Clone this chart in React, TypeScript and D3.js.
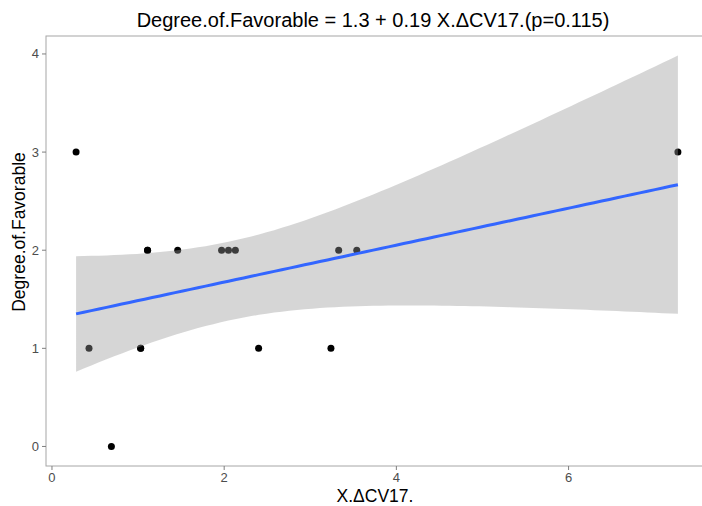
import React, { useEffect, useRef } from "react";
import * as d3 from "d3";

// observed points; (1.03, 1) and (1.11, 2) are overplotted twice, as the fit stats imply
const xValues = [0.28, 0.43, 0.69, 1.03, 1.03, 1.11, 1.11, 1.46, 1.97, 2.05, 2.13, 2.4, 3.24, 3.33, 3.54, 7.27];
const yValues = [3, 1, 0, 1, 1, 2, 2, 2, 2, 2, 2, 1, 1, 2, 2, 3];
const xTicks = [0, 2, 4, 6];
const yTicks = [0, 1, 2, 3, 4];
const title = "Degree.of.Favorable = 1.3 + 0.19 X.\u0394CV17.(p=0.115)";
const xLabel = "X.\u0394CV17.";
const yLabel = "Degree.of.Favorable";

const FONT = "'Liberation Sans', Arial, Helvetica, sans-serif";

// t quantile approximation (Cornish-Fisher)
const tQuantile = (df: number) => {
  const z = 1.959964;
  return z + (z ** 3 + z) / (4 * df) + (5 * z ** 5 + 16 * z ** 3 + 3 * z) / (96 * df * df);
};

const fitLine = () => {
  const n = xValues.length;
  const mx = d3.mean(xValues)!;
  const my = d3.mean(yValues)!;
  let sxx = 0, sxy = 0;
  xValues.forEach((x, i) => {
    sxx += (x - mx) ** 2;
    sxy += (x - mx) * (yValues[i] - my);
  });
  const slope = sxy / sxx;
  const intercept = my - slope * mx;
  let sse = 0;
  xValues.forEach((x, i) => {
    sse += (yValues[i] - intercept - slope * x) ** 2;
  });
  const s = Math.sqrt(sse / (n - 2));
  const t = tQuantile(n - 2);
  const [x0, x1] = d3.extent(xValues) as [number, number];
  return d3.range(80).map(k => {
    const x = x0 + ((x1 - x0) * k) / 79;
    const fit = intercept + slope * x;
    const se = s * Math.sqrt(1 / n + (x - mx) ** 2 / sxx);
    return { x, fit, lo: fit - t * se, hi: fit + t * se };
  });
};

const drawChart = (node: SVGSVGElement) => {
  const svg = d3.select(node);
  svg.selectAll("*").remove();

  const pred = fitLine();
  const [xMin, xMax] = d3.extent(xValues) as [number, number];
  const xr = xMax - xMin;
  const yMin = Math.min(d3.min(yValues)!, d3.min(pred, d => d.lo)!);
  const yMax = Math.max(d3.max(yValues)!, d3.max(pred, d => d.hi)!);
  const yr = yMax - yMin;

  const x = d3.scaleLinear().domain([xMin - 0.05 * xr, xMax + 0.05 * xr]).range([46, 708]);
  const y = d3.scaleLinear().domain([yMin - 0.05 * yr, yMax + 0.05 * yr]).range([466, 36]);

  // panel border
  svg.append("rect")
    .attr("x", 46).attr("y", 36).attr("width", 662).attr("height", 430)
    .attr("fill", "white").attr("stroke", "#a6a6a6").attr("stroke-width", 1);

  // points
  svg.append("g").selectAll("circle").data(xValues).enter().append("circle")
    .attr("cx", d => x(d))
    .attr("cy", (d, i) => y(yValues[i]))
    .attr("r", 3.5)
    .attr("fill", "black");

  // confidence ribbon on top of points
  svg.append("path")
    .datum(pred)
    .attr("fill", "#999999")
    .attr("fill-opacity", 0.4)
    .attr("d", d3.area<any>().x(d => x(d.x)).y0(d => y(d.lo)).y1(d => y(d.hi)));

  svg.append("path")
    .datum(pred)
    .attr("fill", "none")
    .attr("stroke", "#3366FF")
    .attr("stroke-width", 3)
    .attr("d", d3.line<any>().x(d => x(d.x)).y(d => y(d.fit)));

  // x axis
  const xg = svg.append("g");
  xTicks.forEach(t => {
    xg.append("line")
      .attr("x1", x(t)).attr("x2", x(t)).attr("y1", 466).attr("y2", 470)
      .attr("stroke", "#7f7f7f");
    xg.append("text")
      .attr("x", x(t)).attr("y", 482)
      .attr("text-anchor", "middle")
      .attr("font-family", FONT).attr("font-size", 13).attr("fill", "#4d4d4d")
      .text(t);
  });

  // y axis
  const yg = svg.append("g");
  yTicks.forEach(t => {
    yg.append("line")
      .attr("x1", 42).attr("x2", 46).attr("y1", y(t)).attr("y2", y(t))
      .attr("stroke", "#7f7f7f");
    yg.append("text")
      .attr("x", 39).attr("y", y(t) + 4.5)
      .attr("text-anchor", "end")
      .attr("font-family", FONT).attr("font-size", 13).attr("fill", "#4d4d4d")
      .text(t);
  });

  svg.append("text")
    .attr("x", 375).attr("y", 502)
    .attr("text-anchor", "middle")
    .attr("font-family", FONT).attr("font-size", 17.5).attr("fill", "black")
    .text(xLabel);

  svg.append("text")
    .attr("transform", `translate(25, 232) rotate(-90)`)
    .attr("text-anchor", "middle")
    .attr("font-family", FONT).attr("font-size", 17.5).attr("fill", "black")
    .text(yLabel);

  svg.append("text")
    .attr("x", 373).attr("y", 27)
    .attr("text-anchor", "middle")
    .attr("font-family", FONT).attr("font-size", 20).attr("fill", "black")
    .text(title);
};

function App() {
  const ref = useRef<SVGSVGElement>(null);

  useEffect(() => {
    if (ref.current) drawChart(ref.current);
  }, []);

  return (
    <svg
      ref={ref}
      width={702}
      height={506}
      style={{ position: "absolute", left: 0, top: 0, background: "white" }}
    />
  );
}

export default App;
